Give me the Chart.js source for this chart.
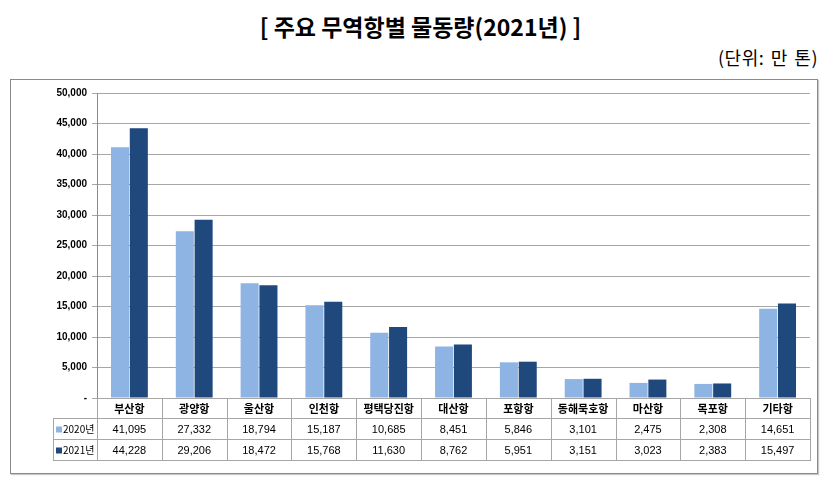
<!DOCTYPE html>
<html>
<head>
<meta charset="utf-8">
<script src="https://cdn.jsdelivr.net/npm/chart.js@4.4.1/dist/chart.umd.min.js"></script>
<style>
  html, body { margin: 0; padding: 0; background: #fff; }
  body { width: 831px; height: 485px; position: relative; overflow: hidden; font-family: "Noto Sans CJK KR", "Noto Sans", sans-serif; }
  #title { position: absolute; left: 0; top: 10px; width: 841px; text-align: center; font-size: 23px; font-weight: bold; color: #000; line-height: 32px; }
  #unit { position: absolute; right: 13px; top: 44px; font-size: 18px; color: #000; line-height: 26px; letter-spacing: 0.5px; word-spacing: 2px; }
  #box { position: absolute; left: 10px; top: 79px; width: 806px; height: 393px; border: 1px solid #8a8a8a; box-shadow: 1px 1px 1px #c8c8c8; }
  #wrap { position: absolute; left: 0; top: 0; width: 831px; height: 485px; }
</style>
</head>
<body>
<div id="title">[ 주요 무역항별 물동량(2021년) ]</div>
<div id="unit">(단위: 만 톤)</div>
<div id="box"></div>
<div id="wrap"><canvas id="c" width="831" height="485"></canvas></div>
<script>
const categories = ["부산항", "광양항", "울산항", "인천항", "평택당진항", "대산항", "포항항", "동해묵호항", "마산항", "목포항", "기타항"];
const seriesNames = ["2020년", "2021년"];
const values2020 = [41095, 27332, 18794, 15187, 10685, 8451, 5846, 3101, 2475, 2308, 14651];
const values2021 = [44228, 29206, 18472, 15768, 11630, 8762, 5951, 3151, 3023, 2383, 15497];
const yTickValues = [0, 5000, 10000, 15000, 20000, 25000, 30000, 35000, 40000, 45000, 50000];

const colors = ["#8DB4E2", "#1F497D"];

function fmt(v) { return v === 0 ? "-" : v.toLocaleString("en-US"); }

const tablePlugin = {
  id: "dataTable",
  afterDraw(chart) {
    const ctx = chart.ctx;
    const x = chart.scales.x;
    const area = chart.chartArea;
    const n = categories.length;
    const cw = (area.right - area.left) / n;
    const top = area.bottom;
    const rh = [20, 21, 21];
    const legLeft = 53;
    ctx.save();
    ctx.strokeStyle = "#a6a6a6";
    ctx.lineWidth = 1;
    const y0 = top, y1 = top + rh[0], y2 = y1 + rh[1], y3 = y2 + rh[2];
    ctx.beginPath();
    ctx.moveTo(area.left, y0 + 0.5); ctx.lineTo(area.right + 1, y0 + 0.5);
    ctx.moveTo(legLeft, y1 + 0.5); ctx.lineTo(area.right + 1, y1 + 0.5);
    ctx.moveTo(legLeft, y2 + 0.5); ctx.lineTo(area.right + 1, y2 + 0.5);
    ctx.moveTo(legLeft, y3 + 0.5); ctx.lineTo(area.right + 1, y3 + 0.5);
    for (let i = 0; i <= n; i++) {
      const xx = Math.round(area.left + i * cw) + 0.5;
      ctx.moveTo(xx, y0); ctx.lineTo(xx, y3 + 1);
    }
    ctx.moveTo(legLeft + 0.5, y1); ctx.lineTo(legLeft + 0.5, y3 + 1);
    ctx.stroke();

    ctx.fillStyle = "#000";
    ctx.textAlign = "center";
    ctx.textBaseline = "middle";
    ctx.font = "bold 11px 'Noto Sans CJK KR'";
    for (let i = 0; i < n; i++) {
      const cx = x.getPixelForValue(i);
      ctx.fillText(categories[i], cx, (y0 + y1) / 2 + 1);
    }
    const rows = [values2020, values2021];
    rows.forEach((vals, r) => {
      const cy = r === 0 ? (y1 + y2) / 2 + 1 : (y2 + y3) / 2 + 1;
      ctx.textAlign = "center";
      ctx.font = "11px 'Liberation Sans'";
      ctx.fillStyle = "#000";
      for (let i = 0; i < n; i++) {
        const cx = x.getPixelForValue(i);
        ctx.fillText(fmt(vals[i]), cx, cy);
      }
      ctx.fillStyle = colors[r];
      ctx.fillRect(legLeft + 3, cy - 3, 6, 6);
      ctx.fillStyle = "#000";
      ctx.textAlign = "left";
      ctx.font = "10px 'Noto Sans CJK KR'";
      ctx.fillText(seriesNames[r], legLeft + 10, cy);
    });
    ctx.restore();
  }
};

new Chart(document.getElementById("c"), {
  type: "bar",
  data: {
    labels: categories,
    datasets: [
      { label: seriesNames[0], data: values2020, backgroundColor: colors[0], borderWidth: 0, barPercentage: 0.96, categoryPercentage: 0.58 },
      { label: seriesNames[1], data: values2021, backgroundColor: colors[1], borderWidth: 0, barPercentage: 0.96, categoryPercentage: 0.58 }
    ]
  },
  options: {
    responsive: false,
    animation: false,
    devicePixelRatio: 1,
    layout: { padding: { left: 0, right: 21, top: 93, bottom: 87 } },
    plugins: { legend: { display: false }, tooltip: { enabled: false }, title: { display: false } },
    scales: {
      x: { display: false, grid: { display: false } },
      y: {
        min: 0, max: 50000,
        afterBuildTicks(scale) { scale.ticks = yTickValues.map(v => ({ value: v })); },
        afterFit(scale) { scale.width = 97; },
        border: { display: true, color: "#8c8c8c", width: 1 },
        grid: { color: "#a6a6a6", lineWidth: 1, tickLength: 5, drawTicks: true },
        ticks: {
          padding: 5,
          color: "#000",
          font: { family: "'Liberation Sans'", size: 10, weight: "bold" },
          callback: (v) => fmt(v)
        }
      }
    }
  },
  plugins: [tablePlugin]
});
</script>
</body>
</html>
